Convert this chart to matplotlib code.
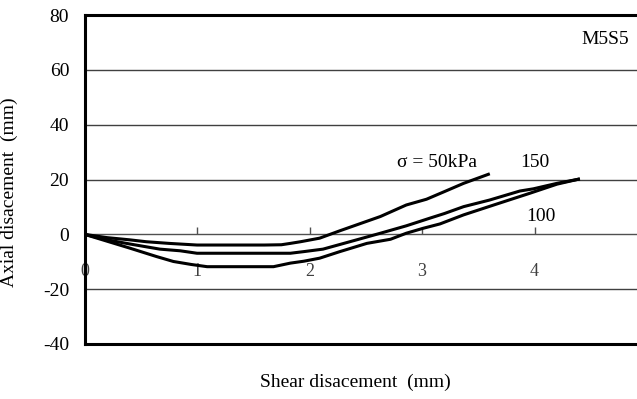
import matplotlib
matplotlib.use("Agg")
import matplotlib.pyplot as plt

plt.rcParams["font.family"] = ["Liberation Serif", "DejaVu Serif"]
plt.rcParams["axes.unicode_minus"] = False

# sigma = 50 kPa
x_50 = [0, 0.2, 0.4, 0.55, 0.75, 1.0, 1.2, 1.4, 1.6, 1.75, 1.83, 1.92, 2.09, 2.27,
        2.45, 2.63, 2.86, 3.04, 3.2, 3.37, 3.59]
y_50 = [0, -1.2, -2.0, -2.7, -3.3, -3.9, -3.9, -3.9, -3.9, -3.8, -3.3, -2.7, -1.4, 1.3,
        3.9, 6.5, 10.7, 12.8, 15.6, 18.6, 21.9]

# sigma = 150 kPa
x_150 = [0, 0.2, 0.4, 0.67, 0.85, 1.0, 1.2, 1.4, 1.6, 1.83, 1.95, 2.12, 2.27, 2.42,
         2.63, 2.86, 3.07, 3.2, 3.37, 3.6, 3.87, 3.99, 4.2, 4.39]
y_150 = [0, -2.0, -3.5, -5.4, -6.0, -6.9, -6.9, -6.9, -6.9, -6.9, -6.3, -5.4, -3.7, -2.0,
         0.4, 3.1, 5.9, 7.6, 10.1, 12.5, 15.8, 16.6, 18.6, 20.1]

# sigma = 100 kPa
x_100 = [0, 0.2, 0.4, 0.64, 0.79, 0.95, 1.09, 1.3, 1.5, 1.68, 1.83, 1.95, 2.09, 2.27,
         2.51, 2.72, 2.86, 3.01, 3.16, 3.37, 3.66, 3.96, 4.2, 4.39]
y_100 = [0, -2.5, -5.0, -8.1, -9.9, -11.0, -11.8, -11.8, -11.8, -11.8, -10.5, -9.8, -8.7,
         -6.3, -3.3, -1.8, 0.4, 2.2, 3.8, 7.1, 11.0, 15.0, 18.3, 20.1]

x_ticks = [0, 1, 2, 3, 4]
y_ticks = [-40, -20, 0, 20, 40, 60, 80]

fig = plt.figure(figsize=(6.37, 3.99), dpi=100)
ax = fig.add_axes([84.5 / 637, 55 / 399, 1 - 84.5 / 637, 329 / 399])

for xs, ys in [(x_50, y_50), (x_150, y_150), (x_100, y_100)]:
    ax.plot(xs, ys, color="black", lw=2.2, solid_joinstyle="round")

ax.set_xlim(0, (637 - 84.5) / 112.5)
ax.set_ylim(-40, 80)

# frame: thick left / top / bottom, no right side
for side in ["left", "top", "bottom"]:
    ax.spines[side].set_linewidth(2.2)
ax.spines["right"].set_visible(False)

ax.set_yticks(y_ticks)
ax.tick_params(axis="y", length=0, pad=11, labelsize=14)
ax.set_xticks([])
for yv in [60, 40, 20, -20]:
    ax.axhline(yv, color="#404040", lw=1.0, zorder=0)

# x axis crossing at y = 0
sec = ax.secondary_xaxis(1 / 3)
sec.set_xticks(x_ticks)
sec.spines["bottom"].set_color("#505050")
sec.spines["bottom"].set_linewidth(1.0)
sec.tick_params(direction="in", length=5, width=1.0, color="#505050",
                pad=21, labelsize=13, labelcolor="#404040")

ax.set_ylabel("Axial disacement  (mm)", fontsize=14)
ax.yaxis.set_label_coords(-0.12, 0.462)
fig.text(355 / 637, 17 / 399, "Shear disacement  (mm)",
         fontsize=14, ha="center", va="center")

ax.text(4.42, 70.9, "M5S5", fontsize=14, va="center")
ax.text(2.78, 26.1, "σ = 50kPa", fontsize=14, va="center")
ax.text(3.87, 26.1, "150", fontsize=14, va="center")
ax.text(3.93, 6.6, "100", fontsize=14, va="center")

fig.savefig("out.png", dpi=100)
